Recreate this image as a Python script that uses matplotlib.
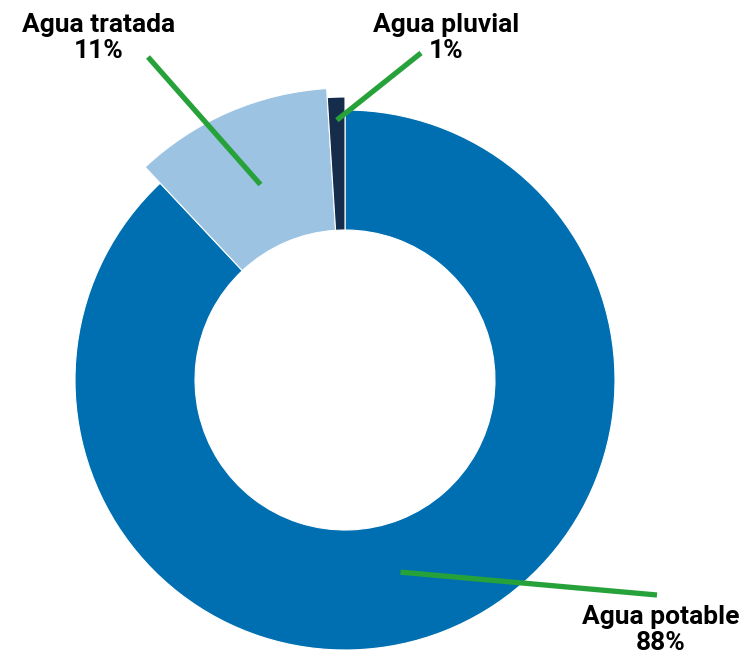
import numpy as np
import matplotlib.pyplot as plt
from matplotlib.patches import Wedge

# datos
categorias = ['Agua potable', 'Agua tratada', 'Agua pluvial']
porcentajes = [88, 11, 1]
colores = ['#006FB1', '#9DC3E3', '#152C4B']
radios = [270, 292, 283]          # radio exterior de cada sector (px)
R_INT = 150
VERDE = '#27A23A'

W, H = 742, 656
cx, cy = 345, H - 380

fig = plt.figure(figsize=(W / 100, H / 100), dpi=100)
ax = fig.add_axes([0, 0, 1, 1])
ax.set_xlim(0, W)
ax.set_ylim(0, H)
ax.set_aspect('equal')
ax.axis('off')

# sectores, sentido horario desde las 12
ang = 90.0
medios = []
for v, c, r in zip(porcentajes, colores, radios):
    span = 360.0 * v / sum(porcentajes)
    ax.add_patch(Wedge((cx, cy), r, ang - span, ang, width=r - R_INT,
                       facecolor=c, edgecolor='white', linewidth=0.8))
    medios.append(ang - span / 2)
    ang -= span

# etiquetas con lineas guia
texto_pos = [(661, H - 630), (99, H - 38), (446, H - 38)]
linea_ini = [(657, H - 595), (148, H - 57), (421, H - 53)]
linea_r = [200, 213, 260]
for i, nombre in enumerate(categorias):
    a = np.radians(medios[i] - (5.5 if i == 0 else 0))
    x1 = cx + linea_r[i] * np.cos(a)
    y1 = cy + linea_r[i] * np.sin(a)
    x0, y0 = linea_ini[i]
    ax.plot([x0, x1], [y0, y1], color=VERDE, lw=3.8, solid_capstyle='butt')
    tx, ty = texto_pos[i]
    ax.text(tx, ty, f'{nombre}\n{porcentajes[i]}%', ha='center', va='center',
            fontsize=19, fontweight='bold', family='Roboto', color='#000000',
            linespacing=1.12)

fig.savefig('out.png', dpi=100)
